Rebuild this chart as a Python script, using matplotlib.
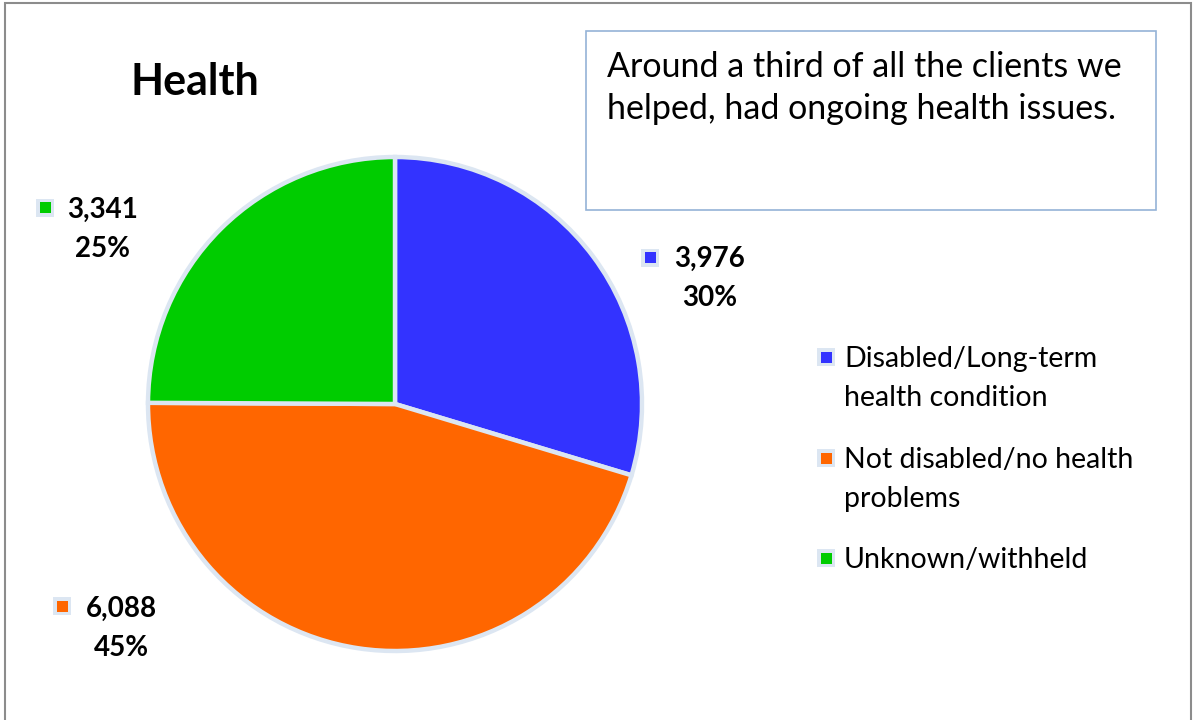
import matplotlib
matplotlib.use("Agg")
import matplotlib.pyplot as plt
from matplotlib.patches import Rectangle

plt.rcParams['font.family'] = ['Lato', 'DejaVu Sans']

categories = ["Disabled/Long-term\nhealth condition",
              "Not disabled/no health\nproblems",
              "Unknown/withheld"]
counts = [3976, 6088, 3341]
colors = ["#3333ff", "#ff6600", "#00cc00"]
edge = "#dce6f2"

W, H = 1194, 720
fig = plt.figure(figsize=(W / 100, H / 100), dpi=100)


def fx(x):
    return x / W


def fy(y):
    return 1 - y / H


def marker(x, y, c):
    # small legend-style key: light frame with a coloured square
    fig.add_artist(Rectangle((fx(x - 9), fy(y + 9)), 18 / W, 18 / H, transform=fig.transFigure,
                             facecolor=edge, edgecolor="none"))
    fig.add_artist(Rectangle((fx(x - 5.5), fy(y + 5.5)), 11 / W, 11 / H, transform=fig.transFigure,
                             facecolor=c, edgecolor="none"))


# outer frame of the chart area
fig.add_artist(Rectangle((fx(5), fy(730)), fx(1186), 727 / H, transform=fig.transFigure,
                         fill=False, edgecolor="#8c8c8c", linewidth=1.5))

# pie
cx, cy, r = 395, 404, 247
ax = fig.add_axes([fx(cx - r), fy(cy + r), 2 * r / W, 2 * r / H])
wedges, _ = ax.pie(counts, colors=colors, startangle=90, counterclock=False,
                   wedgeprops=dict(edgecolor=edge, linewidth=3.2))
for w in wedges:
    w.set_clip_on(False)
ax.set_xlim(-1, 1)
ax.set_ylim(-1, 1)
ax.axis("off")

fig.text(fx(131), fy(95), "Health", fontsize=31, fontweight="bold", va="baseline", ha="left")

# annotation box
fig.add_artist(Rectangle((fx(586), fy(210)), fx(570), 179 / H, transform=fig.transFigure,
                         fill=False, edgecolor="#95b3d7", linewidth=1.2))
note = ["Around a third of all the clients we", "helped, had ongoing health issues."]
for i, line in enumerate(note):
    fig.text(fx(607), fy(77 + 42 * i), line, fontsize=24.5, va="baseline", ha="left")

# data labels
total = sum(counts)
label_pos = [(710, 267), (121, 617), (103, 218)]
marker_pos = [(650, 258), (62, 606), (45, 208)]
for (x, y), (mx, my), v, c in zip(label_pos, marker_pos, counts, colors):
    lines = [f"{v:,}", f"{100 * v / total:.0f}%"]
    for i, line in enumerate(lines):
        fig.text(fx(x), fy(y + 39 * i), line, fontsize=20, fontweight="bold",
                 ha="center", va="baseline")
    marker(mx, my, c)

# legend
leg_base = [367, 468, 568]
for y, lab, c in zip(leg_base, categories, colors):
    for i, line in enumerate(lab.split("\n")):
        fig.text(fx(844), fy(y + 39 * i), line, fontsize=20.5, ha="left", va="baseline")
    marker(826, y - 10, c)

fig.savefig("out.png", dpi=100)
